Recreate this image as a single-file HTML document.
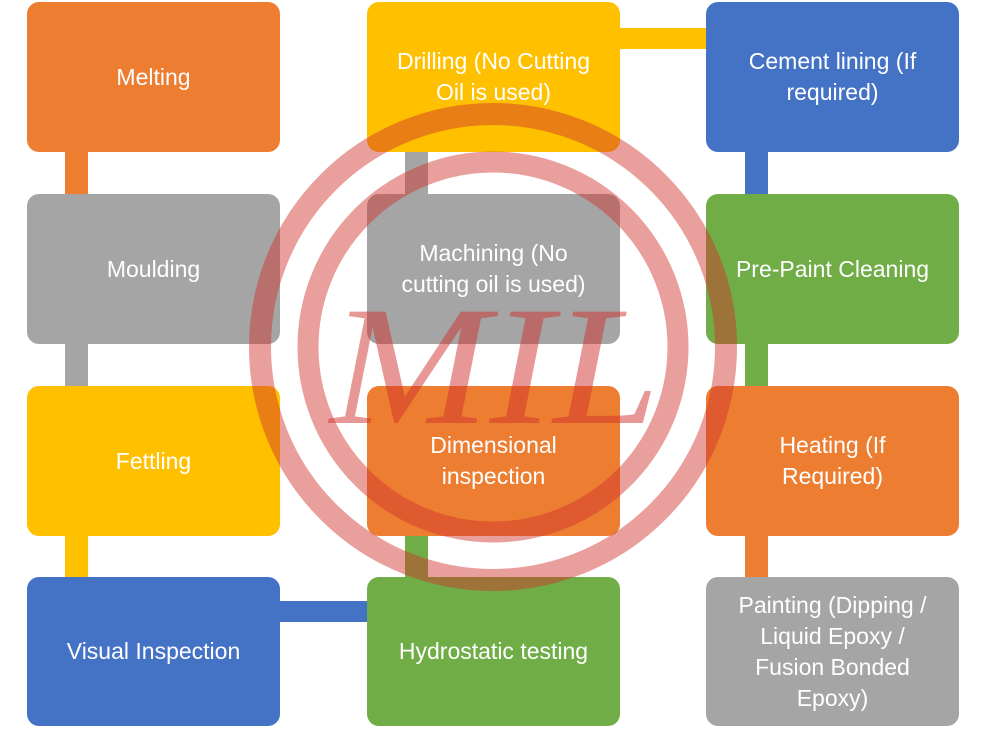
<!DOCTYPE html>
<html><head><style>
body{margin:0;width:1000px;height:735px;background:#fff;position:relative;overflow:hidden;font-family:"Liberation Sans",sans-serif}
.b{position:absolute;width:253px;height:150px;border-radius:12px;color:#fff;font-size:23px;line-height:31px;display:flex;align-items:center;justify-content:center;text-align:center}
.c{position:absolute}
.o{background:#ED7D31}.g{background:#A5A5A5}.y{background:#FFC000}.u{background:#4472C4}.n{background:#70AD47}
</style></head><body>
<div class="c o" style="left:65px;top:152px;width:23px;height:42px"></div>
<div class="c g" style="left:65px;top:344px;width:23px;height:42px"></div>
<div class="c y" style="left:65px;top:536px;width:23px;height:42px"></div>
<div class="c g" style="left:405px;top:152px;width:23px;height:42px"></div>
<div class="c n" style="left:405px;top:536px;width:23px;height:42px"></div>
<div class="c u" style="left:745px;top:152px;width:23px;height:42px"></div>
<div class="c n" style="left:745px;top:344px;width:23px;height:42px"></div>
<div class="c o" style="left:745px;top:536px;width:23px;height:42px"></div>
<div class="c y" style="left:620px;top:28px;width:86px;height:21px"></div>
<div class="c u" style="left:280px;top:601px;width:87px;height:21px"></div>

<div class="b o" style="left:27px;top:2px">Melting</div>
<div class="b g" style="left:27px;top:194px">Moulding</div>
<div class="b y" style="left:27px;top:386px">Fettling</div>
<div class="b u" style="left:27px;top:577px;height:149px">Visual Inspection</div>
<div class="b y" style="left:367px;top:2px">Drilling (No Cutting<br>Oil is used)</div>
<div class="b g" style="left:367px;top:194px">Machining (No<br>cutting oil is used)</div>
<div class="b o" style="left:367px;top:386px">Dimensional<br>inspection</div>
<div class="b n" style="left:367px;top:577px;height:149px">Hydrostatic testing</div>
<div class="b u" style="left:706px;top:2px">Cement lining (If<br>required)</div>
<div class="b n" style="left:706px;top:194px">Pre-Paint Cleaning</div>
<div class="b o" style="left:706px;top:386px">Heating (If<br>Required)</div>
<div class="b g" style="left:706px;top:577px;height:149px">Painting (Dipping /<br>Liquid Epoxy /<br>Fusion Bonded<br>Epoxy)</div>

<svg style="position:absolute;left:0;top:0" width="1000" height="735">
<g fill="none" stroke="rgba(208,50,45,0.47)">
<circle cx="493" cy="347" r="233" stroke-width="22"/>
<circle cx="493" cy="347" r="185" stroke-width="21"/>
</g>
<text x="495" y="423" text-anchor="middle" font-family="Liberation Serif,serif" font-style="italic" font-size="170" fill="rgba(208,50,45,0.5)" textLength="330" lengthAdjust="spacingAndGlyphs">MIL</text>
</svg>
</body></html>
